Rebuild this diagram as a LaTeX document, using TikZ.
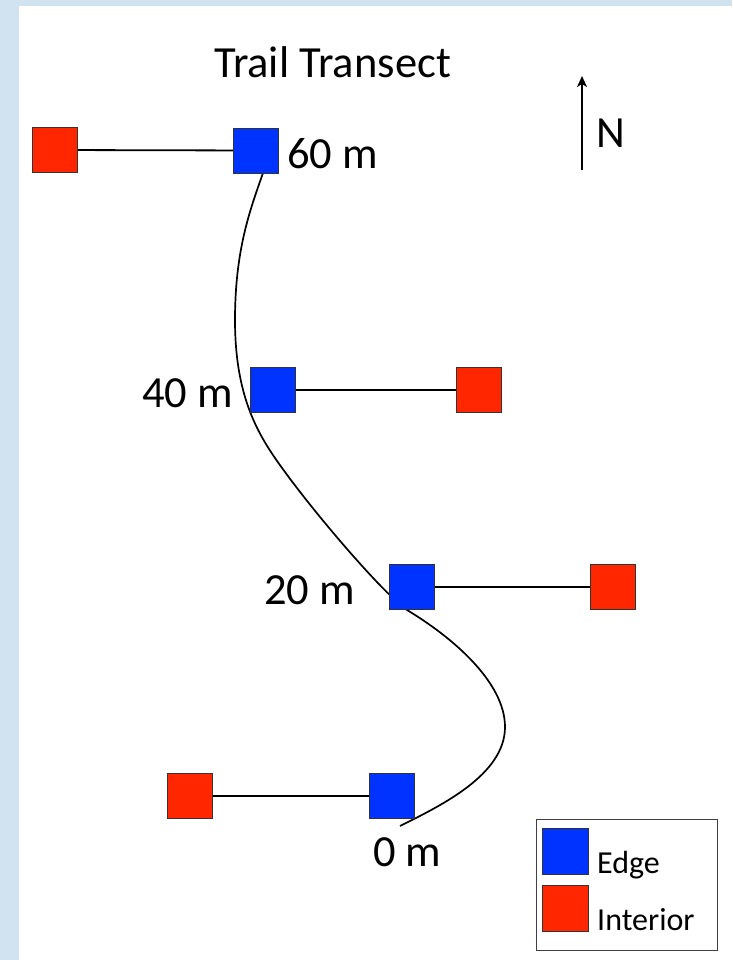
\documentclass[tikz,border=0pt]{standalone}
\usepackage{fontspec}
\setmainfont{Carlito}
\usetikzlibrary{arrows.meta}
\definecolor{edgeblue}{RGB}{0,51,255}
\definecolor{interiorred}{RGB}{255,38,0}
\definecolor{framebg}{RGB}{209,227,241}
\pgfdeclarelayer{paper}
\pgfdeclarelayer{lines}
\pgfsetlayers{paper,lines,main}

\begin{document}
\begin{tikzpicture}[x=1pt,y=-1pt,
  site/.style={minimum size=45pt, inner sep=0pt, draw=black!80, line width=0.9pt},
  edgesite/.style={site, fill=edgeblue},
  interiorsite/.style={site, fill=interiorred},
  dist/.style={font=\fontsize{44.5}{50}\selectfont, inner sep=0pt},
  keytext/.style={font=\fontsize{32}{36}\selectfont, inner sep=0pt, anchor=base west},
  tie/.style={line width=1.8pt},
  trail/.style={line width=1.7pt}]

\useasboundingbox (0,0) rectangle (732,960);
\begin{pgfonlayer}{paper}
  \fill[framebg] (0,0) rectangle (732,960);
  \fill[white] (19,6) rectangle (732,960);
\end{pgfonlayer}

% title and north arrow
\node[dist, anchor=base] (title) at (332.5,78) {Trail Transect};
\coordinate (ntail) at (582,170);
\coordinate (nhead) at (582,76);
\draw[line width=1.8pt, -{Stealth[length=11pt,width=10pt,inset=3pt]}] (ntail) -- (nhead);
\node[dist, anchor=base west] (north) at (596,148) {N};

% sampling plots
\node[interiorsite] (r60) at (54.5,150) {};
\node[edgesite]     (b60) at (255.5,150.5) {};
\node[edgesite]     (b40) at (272.5,390) {};
\node[interiorsite] (r40) at (478.5,390) {};
\node[edgesite]     (b20) at (411.5,587) {};
\node[interiorsite] (r20) at (612.5,587) {};
\node[edgesite]     (b0)  at (391.5,796) {};
\node[interiorsite] (r0)  at (189.5,796) {};

% distance labels
\node[dist, anchor=base west] (l60) at (287,168) {60 m};
\node[dist, anchor=base east] (l40) at (233,407) {40 m};
\node[dist, anchor=base west] (l20) at (264,604) {20 m};
\node[dist, anchor=base west] (l0)  at (373,866) {0 m};

\begin{pgfonlayer}{lines}
  % transect ties between edge and interior plots
  \draw[tie] (r60.center) -- (b60.center);
  \draw[tie] (b40.center) -- (r40.center);
  \draw[tie] (b20.center) -- (r20.center);
  \draw[tie] (r0.center) -- (b0.center);
  % the trail, from the 0 m start up to the 60 m plot
  \coordinate (tstart) at (400,826);
  \coordinate (tend) at (263,173);
  \draw[trail] (tstart)
    .. controls (440,806) and (505,775) .. (505,727)
    .. controls (505,682) and (452,637) .. (407,610)
    .. controls (385,595) and (320,520) .. (285,472)
    .. controls (260,438) and (235,400) .. (235,320)
    .. controls (235,250) and (250,210) .. (tend);
\end{pgfonlayer}

% legend
\node[draw=black!75, line width=1pt, minimum width=181pt, minimum height=131pt, inner sep=0pt] (key) at (626.5,884.5) {};
\node[edgesite, minimum size=46pt] (keyb) at (565,851) {};
\node[interiorsite, minimum size=46pt] (keyr) at (565,908) {};
\node[keytext] (keye) at (597,873) {Edge};
\node[keytext] (keyi) at (597,930) {Interior};
\end{tikzpicture}
\end{document}
